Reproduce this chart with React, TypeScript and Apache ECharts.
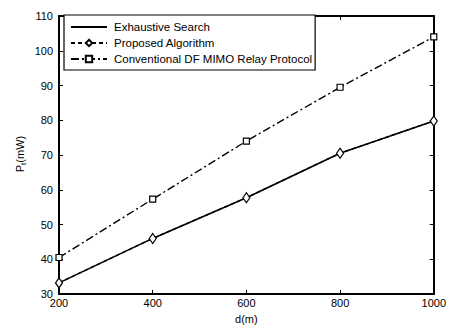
import React, { useEffect, useRef } from "react";
import * as echarts from "echarts";

const distances = [200, 400, 600, 800, 1000];
const exhaustive = [33.2, 46.0, 57.7, 70.5, 79.8];
const proposed = [33.2, 46.0, 57.7, 70.5, 79.8];
const conventional = [40.5, 57.3, 74.0, 89.5, 104.0];
const seriesNames = ["Exhaustive Search", "Proposed Algorithm", "Conventional DF MIMO Relay Protocol"];

const FONT = "Liberation Sans, Arial, Helvetica, sans-serif";

export default function App() {
  const ref = useRef<HTMLDivElement>(null);
  useEffect(() => {
    if (!ref.current) return;
    const chart = echarts.init(ref.current, undefined, { renderer: "svg" });
    const pair = (ys: number[]) => distances.map((d, i) => [d, ys[i]]);
    const axisCommon = {
      axisLine: { show: true, onZero: false, lineStyle: { color: "#000", width: 2 } },
      axisTick: { show: true, inside: true, length: 4, lineStyle: { color: "#000", width: 1 } },
      splitLine: { show: false },
    };
    chart.setOption({
      animation: false,
      backgroundColor: "#fff",
      textStyle: { fontFamily: FONT },
      grid: { left: 59, right: 14, top: 16, bottom: 29, containLabel: false },
      legend: {
        orient: "vertical",
        left: 64,
        top: 15,
        padding: [6, 3, 5, 6],
        itemGap: 4,
        itemWidth: 36,
        itemHeight: 8,
        borderColor: "#000",
        borderWidth: 1.2,
        borderRadius: 0,
        backgroundColor: "#fff",
        textStyle: { fontFamily: FONT, fontSize: 11.5, lineHeight: 12, color: "#000", padding: [0, 0, 0, 2] },
        data: [
          { name: seriesNames[0], itemStyle: { opacity: 0 } },
          { name: seriesNames[1] },
          { name: seriesNames[2] },
        ],
      },
      graphic: [
        {
          type: "text",
          x: 20,
          y: 154,
          rotation: Math.PI / 2,
          style: {
            text: "{a|P}{b|t}{a|(mW)}",
            align: "center",
            verticalAlign: "middle",
            rich: {
              a: { fontFamily: FONT, fontSize: 11, fill: "#000", color: "#000" },
              b: { fontFamily: FONT, fontSize: 8, fill: "#000", color: "#000", padding: [6, 0, 0, 0] },
            },
          },
        },
      ],
      xAxis: [
        {
          type: "value",
          min: 200,
          max: 1000,
          interval: 200,
          name: "d(m)",
          nameLocation: "middle",
          nameGap: 19,
          nameTextStyle: { fontFamily: FONT, fontSize: 11, color: "#000" },
          axisLabel: { color: "#000", fontSize: 11, fontFamily: FONT, margin: 3, formatter: (v: number) => String(v) },
          ...axisCommon,
        },
        {
          type: "value",
          position: "top",
          min: 200,
          max: 1000,
          interval: 200,
          axisLabel: { show: false },
          ...axisCommon,
        },
      ],
      yAxis: [
        {
          type: "value",
          min: 30,
          max: 110,
          interval: 10,
          axisLabel: { color: "#000", fontSize: 11, fontFamily: FONT, margin: 6 },
          ...axisCommon,
        },
        {
          type: "value",
          position: "right",
          min: 30,
          max: 110,
          interval: 10,
          axisLabel: { show: false },
          ...axisCommon,
        },
      ],
      series: [
        {
          name: seriesNames[0],
          type: "line",
          data: pair(exhaustive),
          symbol: "none",
          lineStyle: { color: "#000", width: 1.6, type: "solid" },
          itemStyle: { color: "#000" },
          z: 3,
        },
        {
          name: seriesNames[1],
          type: "line",
          data: pair(proposed),
          symbol: "diamond",
          symbolSize: [7, 10],
          showAllSymbol: true,
          lineStyle: { color: "#000", width: 1.4, type: [4, 3] },
          itemStyle: { color: "#fff", borderColor: "#000", borderWidth: 1.2 },
          z: 4,
        },
        {
          name: seriesNames[2],
          type: "line",
          data: pair(conventional),
          symbol: "rect",
          symbolSize: 6,
          lineStyle: { color: "#000", width: 1.4, type: [8, 3, 2, 3] },
          itemStyle: { color: "#fff", borderColor: "#000", borderWidth: 1.2 },
          z: 4,
        },
      ],
    });
    return () => chart.dispose();
  }, []);
  return <div ref={ref} style={{ width: 449, height: 329, position: "absolute", left: 0, top: 0 }} />;
}
